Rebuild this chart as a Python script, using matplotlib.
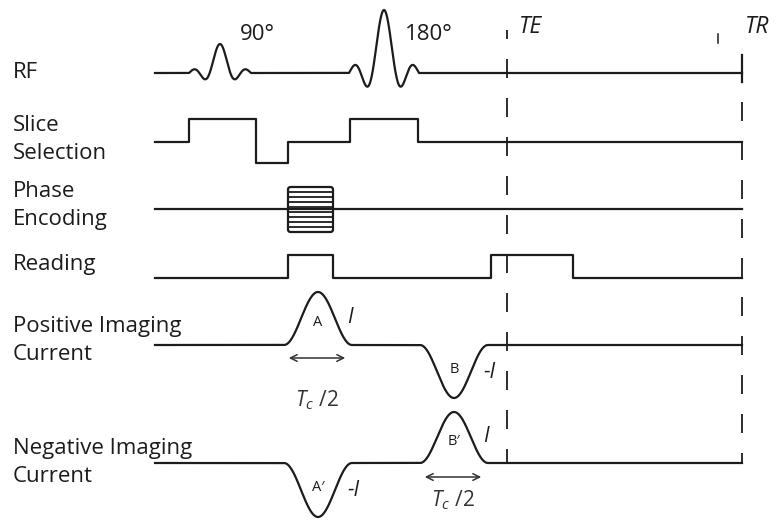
import numpy as np
import matplotlib
matplotlib.use("Agg")
import matplotlib.pyplot as plt
from matplotlib.patches import FancyBboxPatch

plt.rcParams['font.family'] = ['Open Sans', 'DejaVu Sans']
plt.rcParams['mathtext.fontset'] = 'custom'
plt.rcParams['mathtext.it'] = 'Open Sans:italic'
plt.rcParams['mathtext.rm'] = 'Open Sans'
plt.rcParams['lines.scale_dashes'] = False

# time axis (px) and channel baselines
t_start, t_end = 155, 742
te, tr = 507, 742
channels = ["RF", "Slice\nSelection", "Phase\nEncoding", "Reading",
            "Positive Imaging\nCurrent", "Negative Imaging\nCurrent"]
baselines = [73, 142, 209, 278, 345, 463]
label_y = [78, 159, 225, 270, 360, 482]

# RF pulses: centre, amplitude, half width
rf_centres = [220, 384]
rf_amps = [29, 63]
rf_halfw = [31, 35]
rf_names = ["90°", "180°"]

# gradient lobes: (start, stop, level)
slice_lobes = [(189, 256, 23), (256, 288, -21), (350, 418, 23)]
read_lobes = [(288, 333, 23), (491, 573, 23)]
phase_box = (288, 333, 187, 232)
phase_steps = 10

# imaging current lobes
bump_centres = [318, 454]
bump_halfw = 34
pos_amps = [53, -53]
neg_amps = [-54, 51]
pos_labels = [("A", "I"), ("B", "-I")]
neg_labels = [("A′", "-I"), ("B′", "I")]

ink = "#1c1c1c"
lw = 1.6

fig = plt.figure(figsize=(7.78, 5.25), dpi=100)
ax = fig.add_axes([0, 0, 1, 1])
ax.set_xlim(0, 778)
ax.set_ylim(525, 0)
ax.axis("off")

t = np.linspace(t_start, t_end, 4000)


def rf_trace(y0):
    y = np.zeros_like(t)
    for c, a, w in zip(rf_centres, rf_amps, rf_halfw):
        u = (t - c) / w
        m = np.abs(u) <= 1
        y[m] += a * np.sinc(3 * u[m])
    return y0 - y


def step_trace(y0, lobes):
    xs, ys = [t_start], [y0]
    for a, b, lev in lobes:
        xs += [a, a, b, b]
        ys += [ys[-1], y0 - lev, y0 - lev, y0]
    xs.append(t_end)
    ys.append(y0)
    return xs, ys


def bump_trace(y0, amps):
    y = np.zeros_like(t)
    for c, a in zip(bump_centres, amps):
        u = (t - c) / bump_halfw
        m = np.abs(u) <= 1
        y[m] += a * 0.5 * (1 + np.cos(np.pi * u[m]))
    return y0 - y


# channel names
for name, ly in zip(channels, label_y):
    lines = name.split("\n")
    for k, s in enumerate(reversed(lines)):
        ax.text(13, ly - k * 28, s, fontsize=16, color=ink, va="baseline", ha="left")

# RF
ax.plot(t, rf_trace(baselines[0]), color=ink, lw=lw, solid_joinstyle="round")
ax.plot([t_end, t_end], [55, 82], color=ink, lw=lw)
for c, nm, x in zip(rf_centres, rf_names, [240, 405]):
    ax.text(x, 40, nm, fontsize=16, color=ink, va="baseline", ha="left")

# slice selection and reading
xs, ys = step_trace(baselines[1], slice_lobes)
ax.plot(xs, ys, color=ink, lw=lw, solid_joinstyle="round")
xs, ys = step_trace(baselines[3], read_lobes)
ax.plot(xs, ys, color=ink, lw=lw, solid_joinstyle="round")

# phase encoding table
ax.plot([t_start, t_end], [baselines[2]] * 2, color=ink, lw=lw)
x0, x1, y0, y1 = phase_box
for yy in np.linspace(y0, y1, phase_steps)[1:-1]:
    ax.plot([x0, x1], [yy, yy], color=ink, lw=1.3)
ax.add_patch(FancyBboxPatch((x0, y0), x1 - x0, y1 - y0,
                            boxstyle="round,pad=0,rounding_size=2.5",
                            fc="none", ec=ink, lw=lw))

# imaging currents
ax.plot(t, bump_trace(baselines[4], pos_amps), color=ink, lw=lw)
ax.plot(t, bump_trace(baselines[5], neg_amps), color=ink, lw=lw)

for base, amps, labs in [(baselines[4], pos_amps, pos_labels),
                         (baselines[5], neg_amps, neg_labels)]:
    for c, a, (inner, cur) in zip(bump_centres, amps, labs):
        if a > 0:
            iy, cy = base - 0.35 * a, base - 0.42 * a
        else:
            iy, cy = base - 0.52 * a, base - 0.62 * a
        ax.text(c, iy, inner, fontsize=10.5, color=ink, ha="center", va="baseline")
        ax.text(c + 29, cy, cur, fontsize=15, color=ink, style="italic",
                ha="left", va="baseline")

# T_c/2 durations under the first lobe of each current
for c, ay, ty in [(bump_centres[0], 358, 406), (bump_centres[1], 477, 506)]:
    ax.annotate("", xy=(c - bump_halfw + 2, ay), xytext=(c + bump_halfw - 4, ay),
                arrowprops=dict(arrowstyle="<->", color="#333333", lw=1.1,
                                mutation_scale=12))
    ax.text(c - 23, ty, r"$T_c\ /2$", fontsize=15, color="#333333",
            ha="left", va="baseline")

# TE / TR markers
ax.plot([te, te], [30, 462], color=ink, lw=1.3, ls=(10 * 0.72, (19 * 0.72, 20 * 0.72)))
ax.plot([tr, tr], [63, 463], color=ink, lw=1.3, ls=(0, (19 * 0.72, 20 * 0.72)))
ax.plot([718, 718], [34, 43], color=ink, lw=1.1)
ax.text(519, 33, "TE", fontsize=16.5, style="italic", color=ink, va="baseline")
ax.text(745, 33, "TR", fontsize=16.5, style="italic", color=ink, va="baseline")

fig.savefig("out.png", dpi=100)
